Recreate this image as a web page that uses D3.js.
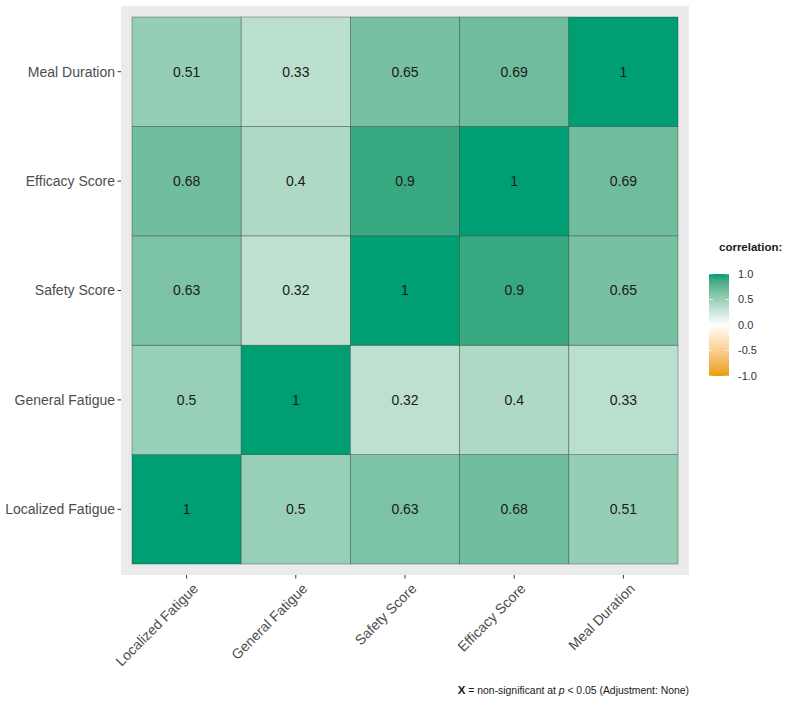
<!DOCTYPE html>
<html>
<head>
<meta charset="utf-8">
<script src="https://cdn.jsdelivr.net/npm/d3@7"></script>
<style>
  body { margin: 0; background: #fff; }
  text { font-family: "Liberation Sans", Arial, sans-serif; }
</style>
</head>
<body>
<div class="corrDiv"></div>
<script>
"use strict";

// Data:
var variables = ["Localized Fatigue", "General Fatigue", "Safety Score", "Efficacy Score", "Meal Duration"];

// Correlation matrix, row by row (same order as variables)
var corrLocalized = [1, 0.5, 0.63, 0.68, 0.51];
var corrGeneral   = [0.5, 1, 0.32, 0.4, 0.33];
var corrSafety    = [0.63, 0.32, 1, 0.9, 0.65];
var corrEfficacy  = [0.68, 0.4, 0.9, 1, 0.69];
var corrMeal      = [0.51, 0.33, 0.65, 0.69, 1];

var legendTicks = [1.0, 0.5, 0.0, -0.5, -1.0];

var matrix = [corrLocalized, corrGeneral, corrSafety, corrEfficacy, corrMeal];

// SVG Properties:
var width = 789, height = 701;
var panel = { left: 121, top: 6, right: 689, bottom: 575 };
var pad = 11;

var svg = d3.select(".corrDiv").append("svg")
    .attr("width", width)
    .attr("height", height);

// colour scale (low / mid / high, Lab interpolation like gradient2)
var colorScale = d3.scaleLinear()
    .domain([-1, 0, 1])
    .range(["#E69F00", "#FFFFFF", "#009E73"])
    .interpolate(d3.interpolateLab);

var x = d3.scaleBand()
    .domain(variables)
    .range([panel.left + pad, panel.right - pad]);

var y = d3.scaleBand()
    .domain(variables)
    .range([panel.bottom - pad, panel.top + pad]);

// panel background
svg.append("rect")
    .attr("x", panel.left)
    .attr("y", panel.top)
    .attr("width", panel.right - panel.left)
    .attr("height", panel.bottom - panel.top)
    .attr("fill", "#ebebeb");

var cells = [];
for (var i = 0; i < variables.length; i++)
{
    for (var j = 0; j < variables.length; j++)
    {
        cells.push({ col: variables[j], row: variables[i], value: matrix[i][j] });
    }
}

var g = svg.append("g").attr("class", "tiles");

g.selectAll(".bin")
    .data(cells).enter()
    .append("rect")
    .attr("class", "bin")
    .attr("x", function(d) { return x(d.col); })
    .attr("y", function(d) { return y(d.row); })
    .attr("width", x.bandwidth())
    .attr("height", y.bandwidth())
    .attr("fill", function(d) { return colorScale(d.value); })
    .attr("stroke", "#2e3b36")
    .attr("stroke-opacity", 0.55)
    .attr("stroke-width", 0.7);

g.selectAll(".lbl")
    .data(cells).enter()
    .append("text")
    .attr("class", "lbl")
    .attr("x", function(d) { return x(d.col) + x.bandwidth() / 2; })
    .attr("y", function(d) { return y(d.row) + y.bandwidth() / 2; })
    .attr("dy", "0.35em")
    .attr("text-anchor", "middle")
    .attr("font-size", 14)
    .attr("fill", "#1a1a1a")
    .text(function(d) { return String(d.value); });

// y axis
var yAxis = svg.append("g").attr("class", "yaxis");
variables.forEach(function(v)
{
    var cy = y(v) + y.bandwidth() / 2;
    yAxis.append("line")
        .attr("x1", panel.left - 3.5).attr("x2", panel.left)
        .attr("y1", cy).attr("y2", cy)
        .attr("stroke", "#333").attr("stroke-width", 1);
    yAxis.append("text")
        .attr("x", panel.left - 6)
        .attr("y", cy)
        .attr("dy", "0.35em")
        .attr("text-anchor", "end")
        .attr("font-size", 14)
        .attr("fill", "#4d4d4d")
        .text(v);
});

// x axis (rotated labels)
var xAxis = svg.append("g").attr("class", "xaxis");
variables.forEach(function(v)
{
    var cx = x(v) + x.bandwidth() / 2;
    xAxis.append("line")
        .attr("x1", cx).attr("x2", cx)
        .attr("y1", panel.bottom).attr("y2", panel.bottom + 3.5)
        .attr("stroke", "#333").attr("stroke-width", 1);
    xAxis.append("text")
        .attr("transform", "translate(" + (cx + 5) + "," + (panel.bottom + 7) + ") rotate(-45)")
        .attr("dy", "0.75em")
        .attr("text-anchor", "end")
        .attr("font-size", 14)
        .attr("fill", "#4d4d4d")
        .text(v);
});

// legend
var legend = { x: 709, top: 274, width: 20, height: 102 };
var defs = svg.append("defs");
var grad = defs.append("linearGradient")
    .attr("id", "corrGrad")
    .attr("x1", 0).attr("y1", 1).attr("x2", 0).attr("y2", 0);
d3.range(0, 21).forEach(function(k)
{
    var v = -1 + k * 0.1;
    grad.append("stop")
        .attr("offset", (k / 20 * 100) + "%")
        .attr("stop-color", colorScale(v));
});

svg.append("text")
    .attr("x", 719)
    .attr("y", 251)
    .attr("font-size", 11.5)
    .attr("font-weight", "bold")
    .attr("fill", "#1a1a1a")
    .text("correlation:");

svg.append("rect")
    .attr("x", legend.x)
    .attr("y", legend.top)
    .attr("width", legend.width)
    .attr("height", legend.height)
    .attr("fill", "url(#corrGrad)");

var legendScale = d3.scaleLinear()
    .domain([-1, 1])
    .range([legend.top + legend.height, legend.top]);

legendTicks.forEach(function(t)
{
    var ty = legendScale(t);
    svg.append("line")
        .attr("x1", legend.x).attr("x2", legend.x + 4)
        .attr("y1", ty).attr("y2", ty)
        .attr("stroke", "#fff").attr("stroke-opacity", 0.6);
    svg.append("line")
        .attr("x1", legend.x + legend.width - 4).attr("x2", legend.x + legend.width)
        .attr("y1", ty).attr("y2", ty)
        .attr("stroke", "#fff").attr("stroke-opacity", 0.6);
    svg.append("text")
        .attr("x", legend.x + legend.width + 9)
        .attr("y", ty)
        .attr("dy", "0.35em")
        .attr("font-size", 11)
        .attr("fill", "#333")
        .text(d3.format(".1f")(t).replace("\u2212", "-"));
});

// caption
var caption = svg.append("text")
    .attr("x", panel.right)
    .attr("y", 694)
    .attr("text-anchor", "end")
    .attr("font-size", 10.4)
    .attr("fill", "#1a1a1a");
caption.append("tspan").attr("font-weight", "bold").attr("font-size", 11.5).text("X");
caption.append("tspan").text(" = non-significant at ");
caption.append("tspan").attr("font-style", "italic").text("p");
caption.append("tspan").text(" < 0.05 (Adjustment: None)");
</script>
</body>
</html>
